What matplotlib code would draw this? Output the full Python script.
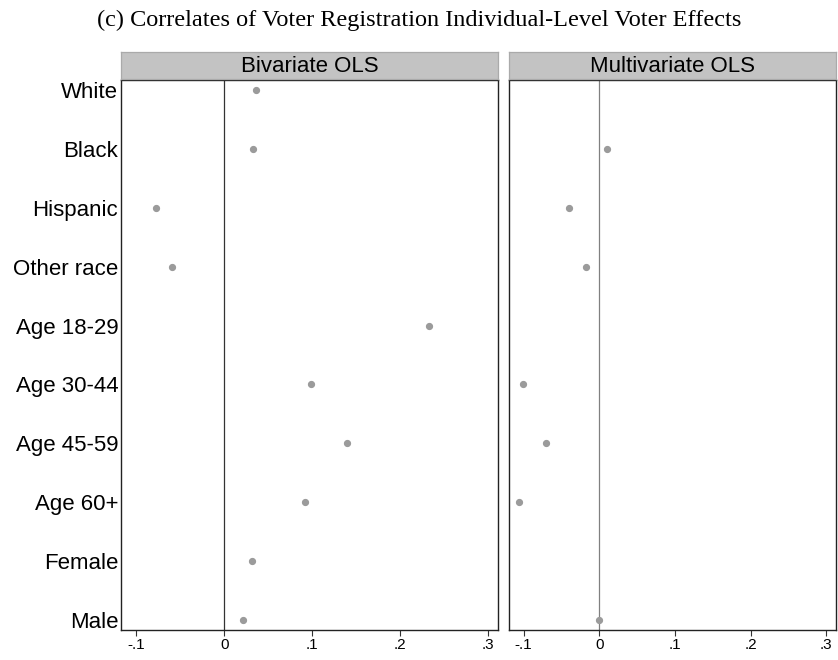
import matplotlib
matplotlib.use("Agg")
import matplotlib.pyplot as plt
import numpy as np

categories = ["White", "Black", "Hispanic", "Other race", "Age 18-29", "Age 30-44",
              "Age 45-59", "Age 60+", "Female", "Male"]
bivariate = [0.036, 0.033, -0.078, -0.059, 0.233, 0.099, 0.139, 0.092, 0.032, 0.021]
multivariate = [np.nan, 0.010, -0.040, -0.018, np.nan, -0.101, -0.070, -0.106, np.nan, -0.001]
panel_titles = ["Bivariate OLS", "Multivariate OLS"]
xticks = [-0.1, 0, 0.1, 0.2, 0.3]
xticklabels = ["-.1", "0", ".1", ".2", ".3"]
title = "(c) Correlates of Voter Registration Individual-Level Voter Effects"

W, H = 838, 660
fig = plt.figure(figsize=(W / 100, H / 100), dpi=100)

def rect(x0, y0, x1, y1):
    return [x0 / W, 1 - y1 / H, (x1 - x0) / W, (y1 - y0) / H]

panels = [
    dict(box=(121, 80, 497.7, 630), xlim=(-0.1174, 0.3107), vals=bivariate, zc="#333333"),
    dict(box=(509, 80, 836, 630), xlim=(-0.1194, 0.313), vals=multivariate, zc="#808080"),
]

ypos = np.arange(1, len(categories) + 1)
for i, p in enumerate(panels):
    x0, y0, x1, y1 = p["box"]
    ax = fig.add_axes(rect(x0, y0, x1, y1))
    ax.set_xlim(*p["xlim"])
    ax.set_ylim(10.17, 0.83)
    ax.axvline(0, color=p["zc"], lw=0.9, zorder=1)
    ax.plot(p["vals"], ypos, linestyle="none", marker="o", ms=4.2,
            color="#9b9b9b", mec="#9b9b9b", zorder=3)
    ax.set_xticks(xticks)
    ax.set_xticklabels(xticklabels, fontsize=11, family="Liberation Sans")
    ax.tick_params(axis="x", direction="out", length=4, width=0.8, pad=2, color="#333333")
    ax.set_yticks(ypos)
    if i == 0:
        ax.set_yticklabels(categories, fontsize=16, family="Liberation Sans")
        ax.tick_params(axis="y", length=0, pad=2)
    else:
        ax.set_yticklabels([])
        ax.tick_params(axis="y", length=0)
    for s in ax.spines.values():
        s.set_color("#222222")
        s.set_linewidth(1.0)
    # strip header
    sax = fig.add_axes(rect(x0, 52, x1, 79))
    sax.set_facecolor("#c3c3c3")
    sax.set_xticks([])
    sax.set_yticks([])
    for s in sax.spines.values():
        s.set_color("#aaaaaa")
        s.set_linewidth(0.9)
    sax.text(0.5, 0.46, panel_titles[i], ha="center", va="center",
             fontsize=16, family="Liberation Sans", transform=sax.transAxes)

fig.text(97 / W, 1 - 20 / H, title, ha="left", va="center",
         fontsize=17.5, family="Liberation Serif")

fig.savefig("out.png", dpi=100)
